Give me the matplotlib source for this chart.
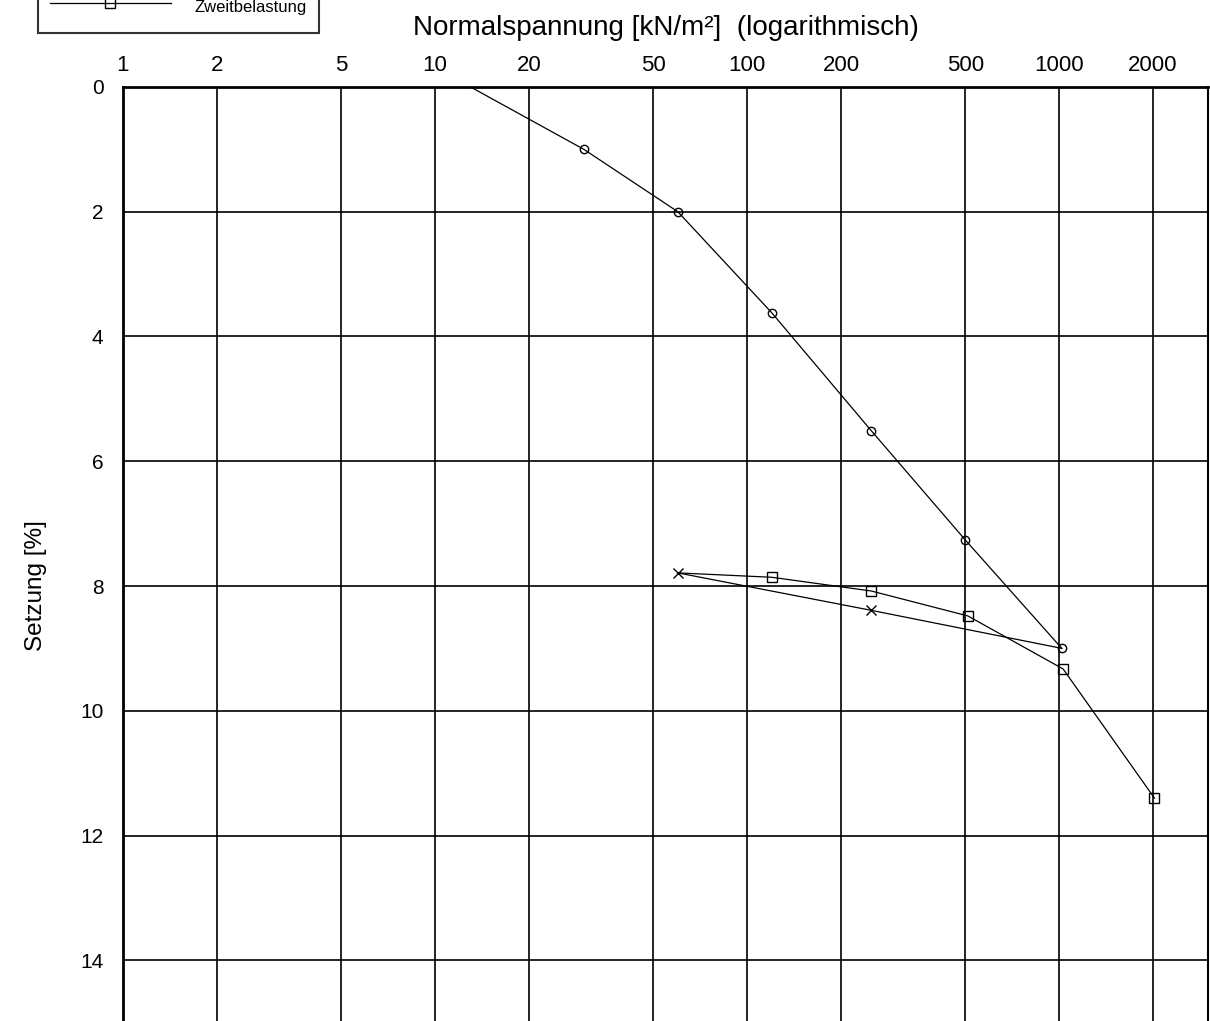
#----------------------------------------------------------------------------------------------------------------------
# Imports

import matplotlib
matplotlib.use("Agg")
import matplotlib.pyplot as plt
from matplotlib.ticker import NullLocator

#----------------------------------------------------------------------------------------------------------------------
# Data (Normalspannung in kN/m², Setzung in %)

erst_sigma = [13, 30, 60, 120, 250, 500, 1020]
erst_s = [0.0, 1.0, 2.0, 3.62, 5.51, 7.26, 9.0]

ent_sigma = [1020, 250, 60]
ent_s = [9.0, 8.39, 7.79]

zweit_sigma = [60, 120, 250, 510, 1030, 2020]
zweit_s = [7.79, 7.86, 8.08, 8.48, 9.33, 11.4]

x_ticks = [1, 2, 5, 10, 20, 50, 100, 200, 500, 1000, 2000]
y_ticks = [0, 2, 4, 6, 8, 10, 12, 14]

#----------------------------------------------------------------------------------------------------------------------
# Plot

plt.rcParams['font.family'] = ['Liberation Sans', 'DejaVu Sans']

fig = plt.figure(figsize=(12.1, 10.21), dpi=100)
W, H = 1210, 1021
left, right, top, bottom = 123, 1208, 87, 1085
ax = fig.add_axes([left / W, 1 - bottom / H, (right - left) / W, (bottom - top) / H])

ax.plot(erst_sigma, erst_s, color="black", lw=0.9, marker="o", ms=6, mfc="none", mec="black",
        markevery=list(range(1, len(erst_sigma))))
ax.plot(ent_sigma, ent_s, color="black", lw=0.9, marker="x", ms=7.5, mec="black",
        markevery=[1, 2])
ax.plot(zweit_sigma, zweit_s, color="black", lw=0.9, marker="s", ms=7, mfc="none", mec="black",
        markevery=list(range(1, len(zweit_sigma))), label="Zweitbelastung")

ax.set_xscale("log")
ax.set_xlim(1, 3000)
ax.set_ylim(16, 0)
ax.set_xticks(x_ticks)
ax.set_xticklabels([str(v) for v in x_ticks])
ax.xaxis.set_minor_locator(NullLocator())
ax.set_yticks(y_ticks)
ax.xaxis.tick_top()
ax.tick_params(axis="x", length=0, pad=8, labelsize=16)
ax.tick_params(axis="y", length=0, pad=14, labelsize=15)
ax.grid(True, color="black", lw=1.2)
for sp in ax.spines.values():
    sp.set_linewidth(1.5)
ax.spines["top"].set_linewidth(2)
ax.spines["left"].set_linewidth(2)

fig.text((left + right) / 2 / W, 1 - 35 / H, "Normalspannung [kN/m²]  (logarithmisch)",
         ha="center", va="baseline", fontsize=20)
ax.set_ylabel("Setzung [%]", fontsize=17.5, labelpad=24)

# only the last legend row is inside the picture, the box runs off the top edge
leg = fig.legend(loc="lower left", bbox_to_anchor=(38 / W, 1 - 33 / H), fontsize=12,
                 frameon=True, fancybox=False, handlelength=7.25, handletextpad=1.44,
                 handleheight=2.2, borderpad=0.72, borderaxespad=0)
leg.get_frame().set_edgecolor("black")
leg.get_frame().set_linewidth(1.5)

fig.savefig("out.png", dpi=100)
